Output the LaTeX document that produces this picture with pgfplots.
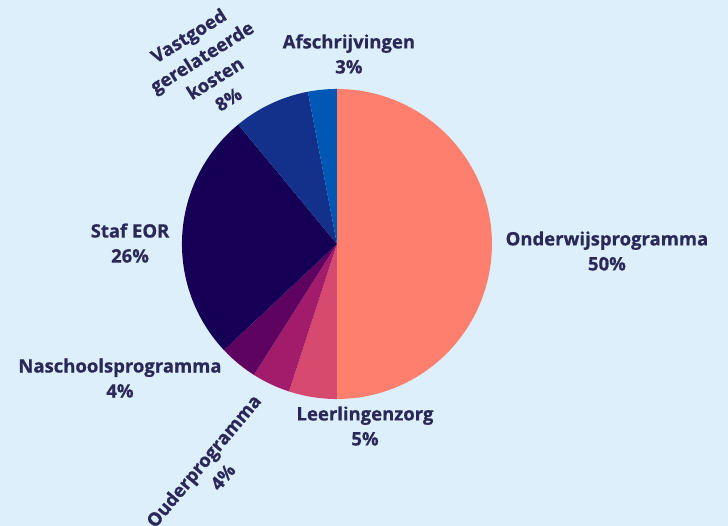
\documentclass[border=0pt]{standalone}
\usepackage{pgfplots}
\pgfplotsset{compat=1.18}
\usepackage{fontspec}
\setmainfont{Open Sans}[BoldFeatures={FakeBold=0.6}]
\definecolor{bg}{HTML}{DDEFFB}
\definecolor{txt}{HTML}{2A2859}
\definecolor{c1}{HTML}{FF7F6E}
\definecolor{c2}{HTML}{D64A70}
\definecolor{c3}{HTML}{A31B6B}
\definecolor{c4}{HTML}{5E0460}
\definecolor{c5}{HTML}{150055}
\definecolor{c6}{HTML}{13318A}
\definecolor{c7}{HTML}{0058B4}
% #1 cumulative percentage before slice, #2 slice percentage, #3 colour
\newcommand{\slice}[3]{%
  \pgfmathsetmacro\sA{90-3.6*(#1)}%
  \pgfmathsetmacro\sB{90-3.6*(#1+#2)}%
  \edef\temp{\noexpand\addplot[fill=#3, draw=none, domain=\sB:\sA, samples=90, variable=\noexpand\t] ({cos(\noexpand\t)},{sin(\noexpand\t)}) -- (axis cs:0,0) -- cycle;}%
  \temp}
\tikzset{lab/.style={font=\fontsize{18.5}{25}\selectfont\bfseries, text=txt, align=center, inner sep=0pt}}
\begin{document}
\begin{tikzpicture}
\begin{axis}[
  name=pie,
  scale only axis, width=728pt, height=526pt,
  xmin=-2.174, xmax=2.523, ymin=-1.819, ymax=1.574,
  hide axis, clip=false]
\fill[bg] (rel axis cs:0,0) rectangle (rel axis cs:1,1);
% Onderwijsprogramma 50, Leerlingenzorg 5, Ouderprogramma 4,
% Naschoolsprogramma 4, Staf EOR 26, Vastgoed 8, Afschrijvingen 3
\slice{0}{50}{c1}
\slice{50}{5}{c2}
\slice{55}{4}{c3}
\slice{59}{4}{c4}
\slice{63}{26}{c5}
\slice{89}{8}{c6}
\slice{97}{3}{c7}
\node[lab] at (axis cs:1.742,-0.045) {Onderwijsprogramma\\50\%};
\node[lab] at (axis cs:0.077,1.226) {Afschrijvingen\\3\%};
\node[lab] at (axis cs:-1.335,0.006) {Staf EOR\\26\%};
\node[lab] at (axis cs:-1.40,-0.865) {Naschoolsprogramma\\4\%};
\node[lab] at (axis cs:0.181,-1.174) {Leerlingenzorg\\5\%};
\node[lab, rotate=32] at (axis cs:-0.83,1.14) {Vastgoed\\gerelateerde\\kosten\\8\%};
\node[lab, rotate=50] at (axis cs:-0.80,-1.45) {Ouderprogramma\\4\%};
\end{axis}
\pgfresetboundingbox
\path (pie.south west) rectangle (pie.north east);
\end{tikzpicture}
\end{document}
